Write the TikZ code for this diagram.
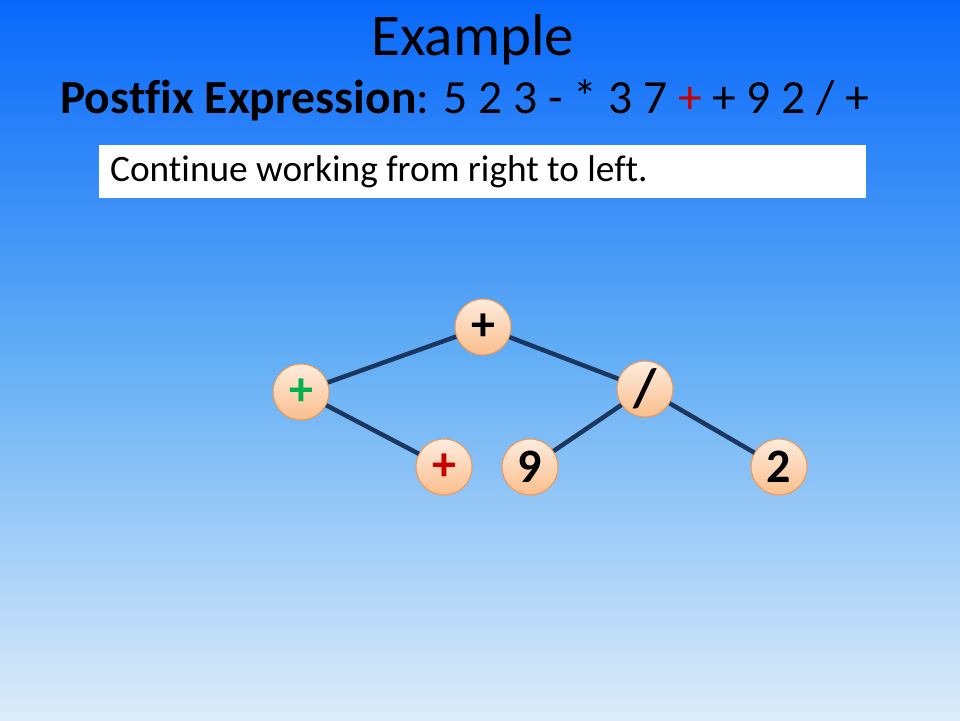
\documentclass[tikz,border=0pt]{standalone}
\usepackage{fontspec}
\setmainfont{Carlito}[Ligatures=CommonOff]
\begin{document}
\begin{tikzpicture}[x=1pt,y=-1pt]
\definecolor{bgtop}{RGB}{8,104,250}
\definecolor{bgmid}{RGB}{100,175,245}
\definecolor{bgbot}{RGB}{222,236,250}
\definecolor{nodetop}{RGB}{253,236,222}
\definecolor{nodebot}{RGB}{251,190,140}
\definecolor{nodeline}{RGB}{242,150,80}
\definecolor{edgecol}{RGB}{28,55,95}
\definecolor{myred}{RGB}{200,0,0}
\definecolor{mygreen}{RGB}{0,176,80}
\tikzset{
  tnode/.style={circle,minimum size=56pt,inner sep=0pt,draw=nodeline,line width=1pt,
    top color=nodetop,bottom color=nodebot,font=\fontsize{48}{50}\selectfont\bfseries},
  edge/.style={draw=edgecol,line width=4.5pt}}
\useasboundingbox (0,0) rectangle (960,720);
\shade[top color=bgtop,bottom color=bgmid] (0,0) rectangle (960,361);
\shade[top color=bgmid,bottom color=bgbot] (0,360) rectangle (960,720);
\node (title) at (473,40) {\fontsize{59}{64}\selectfont Example};
\node (expr) at (465,100) {\fontsize{47.6}{52}\selectfont\textbf{Postfix Expression}: 5 2 3 - * 3 7 \textcolor{myred}{+} + 9 2 / +};
\node[fill=white,minimum width=767pt,minimum height=53pt,inner sep=0pt] (box) at (482.5,171.5) {};
\node[anchor=west,inner sep=0pt] (boxtxt) at (110,172) {\fontsize{37.3}{40}\selectfont Continue working from right to left.};
\node[tnode] (root) at (483,327) {+};
\node[tnode] (lp) at (301,392) {\textcolor{mygreen}{+}};
\node[tnode] (rp) at (444,467) {\textcolor{myred}{+}};
\node[tnode] (nine) at (530,467) {9};
\node[tnode] (div) at (645,389) {\fontsize{54}{56}\selectfont /};
\node[tnode] (two) at (779,467) {2};
\draw[edge] (root) -- (lp);
\draw[edge] (lp) -- (rp);
\draw[edge] (root) -- (div);
\draw[edge] (div) -- (nine);
\draw[edge] (div) -- (two);
\end{tikzpicture}
\end{document}
